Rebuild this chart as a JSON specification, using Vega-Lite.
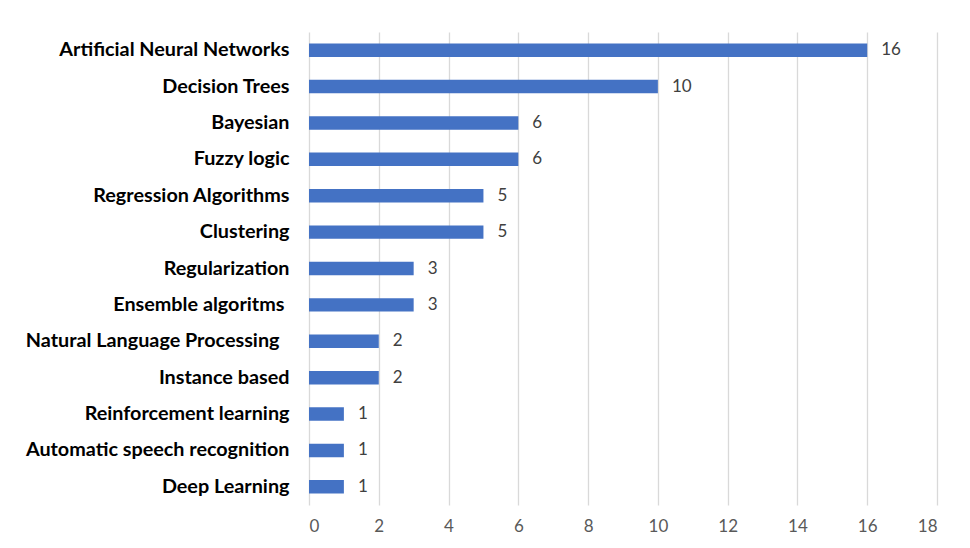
{
  "$schema": "https://vega.github.io/schema/vega-lite/v6.json",
  "width": 628,
  "height": 473,
  "autosize": {"type": "none"},
  "padding": {"left": 309, "top": 32, "right": 33, "bottom": 43},
  "background": "white",
  "config": {"view": {"stroke": null}},
  "data": {
    "values": [
      {"method": "Artificial Neural Networks", "count": 16},
      {"method": "Decision Trees", "count": 10},
      {"method": "Bayesian", "count": 6},
      {"method": "Fuzzy logic", "count": 6},
      {"method": "Regression Algorithms", "count": 5},
      {"method": "Clustering", "count": 5},
      {"method": "Regularization", "count": 3},
      {"method": "Ensemble algoritms", "count": 3},
      {"method": "Natural Language Processing", "count": 2},
      {"method": "Instance based", "count": 2},
      {"method": "Reinforcement learning", "count": 1},
      {"method": "Automatic speech recognition", "count": 1},
      {"method": "Deep Learning", "count": 1}
    ]
  },
  "encoding": {
    "y": {
      "field": "method",
      "type": "nominal",
      "sort": null,
      "scale": {"paddingInner": 0.63, "paddingOuter": 0.315},
      "axis": {
        "title": null,
        "domain": false,
        "ticks": false,
        "labelPadding": {
          "condition": [
            {"test": "datum.value === 'Natural Language Processing'", "value": 30},
            {"test": "datum.value === 'Ensemble algoritms'", "value": 25}
          ],
          "value": 20
        },
        "labelFont": "Lato",
        "labelFontSize": 19.8,
        "labelFontWeight": "bold",
        "labelColor": "#000000",
        "labelLimit": 400
      }
    },
    "x": {
      "field": "count",
      "type": "quantitative",
      "scale": {"domain": [0, 18], "nice": false},
      "axis": {
        "title": null,
        "values": [0, 2, 4, 6, 8, 10, 12, 14, 16, 18],
        "domain": false,
        "ticks": false,
        "grid": true,
        "gridColor": "#d9d9d9",
        "gridWidth": 1.3,
        "labelPadding": 13,
        "labelFont": "Lato",
        "labelFontSize": 17,
        "labelColor": "#595959"
      }
    }
  },
  "layer": [
    {"mark": {"type": "bar", "color": "#4472c4"}},
    {
      "mark": {"type": "text", "align": "left", "dx": 14, "font": "Lato", "fontSize": 17, "color": "#404040"},
      "encoding": {"text": {"field": "count", "type": "quantitative"}}
    }
  ]
}
